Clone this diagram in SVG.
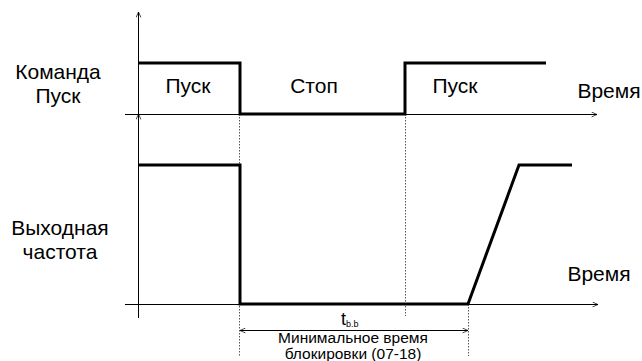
<svg xmlns="http://www.w3.org/2000/svg" width="642" height="361" viewBox="0 0 642 361">
<defs>
<marker id="arr" viewBox="0 0 10 10" refX="10" refY="5" markerWidth="6" markerHeight="6" orient="auto-start-reverse" markerUnits="userSpaceOnUse">
<path d="M1,1 L10,5 L1,9" fill="none" stroke="#000" stroke-width="1.2"/>
</marker>
</defs>
<style>
.t{font-family:"Liberation Sans",Arial,sans-serif;fill:#000}
.ax{stroke:#000;stroke-width:1;fill:none}
.sig{stroke:#000;stroke-width:3;fill:none;stroke-linejoin:miter}
.dot{stroke:#555;stroke-width:1;stroke-dasharray:1.5 1.5;fill:none}
</style>
<rect width="642" height="361" fill="#fff"/>
<g id="labels">
<text class="t" x="58" y="79" font-size="21" text-anchor="middle">Команда</text>
<text class="t" x="58" y="103" font-size="21" text-anchor="middle">Пуск</text>
<text class="t" x="60" y="235" font-size="21" text-anchor="middle">Выходная</text>
<text class="t" x="60" y="259" font-size="21" text-anchor="middle">частота</text>
<text class="t" x="188" y="93" font-size="21" text-anchor="middle">Пуск</text>
<text class="t" x="314" y="93" font-size="21" text-anchor="middle">Стоп</text>
<text class="t" x="455" y="93" font-size="21" text-anchor="middle">Пуск</text>
<text class="t" x="609" y="98" font-size="21" text-anchor="middle">Время</text>
<text class="t" x="599" y="281" font-size="21" text-anchor="middle">Время</text>
<text class="t" x="341" y="325" font-size="18">t<tspan font-size="9" dy="2">b.b</tspan></text>
<text class="t" x="353" y="343" font-size="15.5" text-anchor="middle">Минимальное время</text>
<text class="t" x="353" y="359" font-size="15.5" text-anchor="middle">блокировки (07-18)</text>
</g>
<g id="connectors">
<line class="ax" x1="138.5" y1="120" x2="138.5" y2="12" marker-end="url(#arr)"/>
<line class="ax" x1="138.5" y1="318" x2="138.5" y2="114" marker-end="url(#arr)"/>
<line class="ax" x1="125" y1="114.5" x2="597" y2="114.5" marker-end="url(#arr)"/>
<line class="ax" x1="125" y1="304.5" x2="598" y2="304.5" marker-end="url(#arr)"/>
<line class="dot" x1="239.5" y1="114" x2="239.5" y2="356"/>
<line class="dot" x1="405.5" y1="114" x2="405.5" y2="316"/>
<line class="dot" x1="468.5" y1="304" x2="468.5" y2="356"/>
<line class="ax" x1="240" y1="330.5" x2="468" y2="330.5" marker-start="url(#arr)" marker-end="url(#arr)"/>
</g>
<g id="signals">
<polyline class="sig" points="139,63 240,63 240,114 405,114 405,63 546,63"/>
<polyline class="sig" points="139,165 240,165 240,304 468,304 519,165 572,165"/>
</g>
</svg>
